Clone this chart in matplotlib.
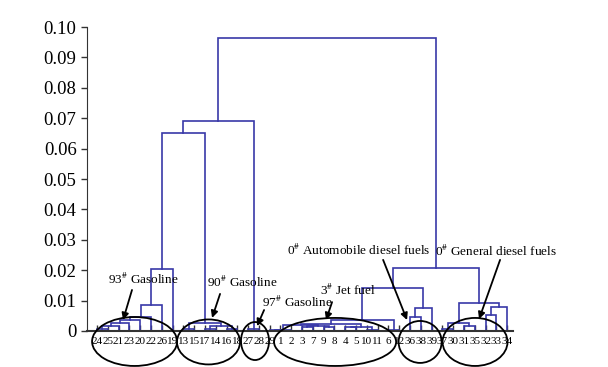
import matplotlib
matplotlib.use('Agg')
import matplotlib.pyplot as plt
from matplotlib.patches import Ellipse

plt.rcParams['font.family'] = ['Liberation Serif', 'DejaVu Serif']
plt.rcParams['mathtext.fontset'] = 'stix'

## Leaf order along the x axis (sample numbers)
leaves = ['24', '25', '21', '23', '20', '22', '26', '19',
          '13', '15', '17', '14', '16', '18',
          '27', '28',
          '29', '1', '2', '3', '7', '9', '8', '4', '5', '10', '11', '6', '12',
          '36', '38', '39',
          '37', '30', '31', '35', '32', '33', '34']

## Merges: (left, right, distance); 'mN' refers to merge N
merges = [
    ('24', '25', 0.0008), ('m0', '21', 0.0015), ('m1', '23', 0.0025),
    ('m2', '20', 0.0035), ('m3', '22', 0.0045), ('m4', '26', 0.0086),
    ('m5', '19', 0.0204),
    ('13', '15', 0.0006), ('17', '14', 0.0008), ('16', '18', 0.0006),
    ('m8', 'm9', 0.0015), ('m7', 'm10', 0.0027),
    ('27', '28', 0.0008),
    ('m6', 'm11', 0.0651), ('m13', 'm12', 0.0691),
    ('29', '1', 0.0003), ('m15', '2', 0.0004), ('3', '7', 0.0013),
    ('9', '8', 0.0013), ('4', '5', 0.0013), ('10', '11', 0.0003),
    ('m17', 'm18', 0.0016), ('m19', 'm20', 0.0014), ('m16', 'm21', 0.0019),
    ('m23', 'm22', 0.0023), ('6', '12', 0.0004), ('m24', 'm25', 0.0035),
    ('36', '38', 0.0047), ('m27', '39', 0.0076),
    ('m26', 'm28', 0.0141),
    ('37', '30', 0.0008), ('31', '35', 0.0015), ('m30', 'm31', 0.0026),
    ('32', '33', 0.0052), ('m33', '34', 0.0078), ('m32', 'm34', 0.0092),
    ('m29', 'm35', 0.0208),
    ('m14', 'm36', 0.0964),
]

yticks = [0, 0.01, 0.02, 0.03, 0.04, 0.05, 0.06, 0.07, 0.08, 0.09, 0.10]
ytick_labels = ['0', '0.01', '0.02', '0.03', '0.04', '0.05', '0.06', '0.07', '0.08', '0.09', '0.10']

## Group annotations: label, text pos, arrow tail, arrow head, ellipse (x, y, w, h)
groups = [
    ('93$^{\\#}$ Gasoline', (4.26, 0.0171), (3.24, 0.0135), (2.41, 0.0036), (3.48, -0.00345, 7.88, 0.0161)),
    ('90$^{\\#}$ Gasoline', (13.44, 0.0161), (11.4, 0.0122), (10.66, 0.0043), (10.33, -0.0036, 5.84, 0.0148)),
    ('97$^{\\#}$ Gasoline', (18.54, 0.0095), (15.48, 0.0069), (14.83, 0.0016), (14.64, -0.0033, 2.6, 0.0125)),
    ('3$^{\\#}$ Jet fuel', (23.26, 0.0135), (21.78, 0.0095), (21.22, 0.0036), (22.06, -0.0036, 11.31, 0.0158)),
    ('0$^{\\#}$ Automobile diesel fuels', (24.28, 0.0266), (26.51, 0.0234), (28.73, 0.0036), (29.94, -0.0036, 3.99, 0.0138)),
    ('0$^{\\#}$ General diesel fuels', (36.98, 0.0263), (37.35, 0.0234), (35.4, 0.0039), (35.03, -0.0036, 6.02, 0.0158)),
]

line_color = '#3838a8'

fig = plt.figure(figsize=(6.08, 3.67), dpi=100)
ax = fig.add_axes([0.1431, 0.0981, 0.7007, 0.8283])

## Walk the merges and draw each U-link
pos = {lab: (i, 0.0) for i, lab in enumerate(leaves)}
for k, (a, b, h) in enumerate(merges):
    xa, ya = pos[a]
    xb, yb = pos[b]
    ax.plot([xa, xa, xb, xb], [ya, h, h, yb], color=line_color, lw=1.2,
            solid_joinstyle='miter', zorder=2)
    pos['m%d' % k] = ((xa + xb) / 2., h)

for label, txy, tail, head, ell in groups:
    ax.text(txy[0], txy[1], label, fontsize=9.5, ha='center', va='center', zorder=4)
    ax.annotate('', xy=head, xytext=tail,
                arrowprops=dict(arrowstyle='-|>', color='black', lw=1.3,
                                mutation_scale=10, shrinkA=0, shrinkB=0),
                zorder=4, annotation_clip=False)
    e = Ellipse((ell[0], ell[1]), ell[2], ell[3], fill=False, ec='black',
                lw=1.3, clip_on=False, zorder=5)
    ax.add_patch(e)

ax.set_xlim(-0.93, 38.55)
ax.set_ylim(0, 0.1)
ax.set_xticks(range(len(leaves)))
ax.set_xticklabels(leaves, fontsize=8)
ax.set_yticks(yticks)
ax.set_yticklabels(ytick_labels, fontsize=13.5)
ax.tick_params(axis='x', direction='in', length=4, width=1, pad=4, colors='#333333', labelcolor='black')
ax.tick_params(axis='y', direction='out', length=4, width=1, colors='#333333', labelcolor='black')
ax.spines['top'].set_visible(False)
ax.spines['right'].set_visible(False)
ax.spines['left'].set_color('#333333')
ax.spines['bottom'].set_color('#333333')
ax.spines['bottom'].set_linewidth(1.5)

fig.savefig('out.png', dpi=100)
